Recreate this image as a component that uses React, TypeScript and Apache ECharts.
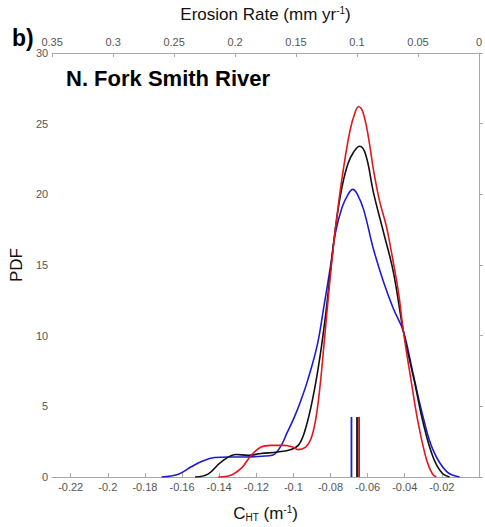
import React, { useEffect, useRef } from "react";
import * as echarts from "echarts";

const bottomTicks = [-0.22, -0.2, -0.18, -0.16, -0.14, -0.12, -0.1, -0.08, -0.06, -0.04, -0.02];

const blueCurve: [number, number][] = [
  [-0.171, 0], [-0.162, 0.2], [-0.155, 0.72], [-0.1495, 1.1], [-0.1424, 1.38], [-0.135, 1.42],
  [-0.126, 1.42], [-0.117, 1.47], [-0.111, 1.56], [-0.1067, 2.2], [-0.1035, 3.1], [-0.0996, 4.2],
  [-0.096, 5.4], [-0.0924, 6.8], [-0.0871, 9.35], [-0.0835, 12.1], [-0.08, 14.9], [-0.0773, 17.3],
  [-0.0737, 19.1], [-0.0705, 20.0], [-0.068, 20.35], [-0.0655, 20.0], [-0.0621, 18.9],
  [-0.0568, 16.1], [-0.0514, 13.8], [-0.0461, 11.9], [-0.0407, 10.3], [-0.0354, 7.25],
  [-0.03, 4.2], [-0.0247, 1.9], [-0.0175, 0.4], [-0.0104, 0],
];

const blackCurve: [number, number][] = [
  [-0.153, 0], [-0.146, 0.2], [-0.1388, 1.07], [-0.1307, 1.59], [-0.1245, 1.54], [-0.1174, 1.66],
  [-0.1085, 1.77], [-0.1013, 1.94], [-0.097, 2.3], [-0.0935, 3.4], [-0.0895, 5.6], [-0.0858, 8.4],
  [-0.0825, 11.6], [-0.0795, 15.2], [-0.0765, 18.4], [-0.0735, 20.7], [-0.0705, 22.2], [-0.0675, 23.0],
  [-0.0643, 23.4], [-0.061, 22.8], [-0.0568, 20.1], [-0.0514, 17.3], [-0.0461, 14.5], [-0.0407, 10.3],
  [-0.0345, 6.6], [-0.03, 3.8], [-0.0247, 1.4], [-0.02, 0.3], [-0.0158, 0],
];

const redCurve: [number, number][] = [
  [-0.1405, 0], [-0.135, 0.07], [-0.128, 0.63], [-0.1227, 1.54], [-0.1174, 2.12], [-0.112, 2.24],
  [-0.105, 2.24], [-0.1, 2.1], [-0.0977, 1.94], [-0.0935, 2.1], [-0.0905, 2.7], [-0.0878, 4.2],
  [-0.0855, 6.6], [-0.0832, 9.8], [-0.0809, 13.1], [-0.0782, 16.6], [-0.076, 19.0], [-0.0735, 21.4],
  [-0.0695, 24.5], [-0.0665, 25.9], [-0.0648, 26.2], [-0.0625, 25.8], [-0.0595, 24.0], [-0.0568, 21.7],
  [-0.0535, 19.5], [-0.05, 17.8], [-0.047, 15.8], [-0.0434, 13.1], [-0.0407, 10.3], [-0.0363, 6.6],
  [-0.0327, 3.8], [-0.0282, 1.2], [-0.025, 0.2], [-0.023, 0],
];

const meanBlue = -0.0687;
const meanBlack = -0.0657;
const meanRed = -0.0646;
const meanHeight = 4.25;

const FONT = "Liberation Sans, Arial, sans-serif";
const GRAY = "#a8a8a8";
const LABEL = "#555555";

export default function App() {
  const ref = useRef<HTMLDivElement>(null);
  useEffect(() => {
    document.body.style.margin = "0";
    const chart = echarts.init(ref.current!, null, { renderer: "svg" });
    const curve = (data: [number, number][], color: string) => ({
      type: "line",
      data,
      smooth: 0.4,
      showSymbol: false,
      lineStyle: { color, width: 1.6 },
      xAxisIndex: 0,
      yAxisIndex: 0,
      z: 3,
    });
    const vline = (x: number, color: string) => ({
      type: "line",
      data: [[x, 0], [x, meanHeight]],
      showSymbol: false,
      lineStyle: { color, width: 1.8 },
      xAxisIndex: 0,
      yAxisIndex: 0,
      z: 4,
    });
    chart.setOption({
      animation: false,
      textStyle: { fontFamily: FONT },
      title: [
        { text: "b)", left: 7, top: 21, textStyle: { fontSize: 23, fontWeight: "bold", color: "#000", fontFamily: FONT } },
        { text: "N. Fork Smith River", left: 61, top: 62, textStyle: { fontSize: 22, fontWeight: "bold", color: "#000", fontFamily: FONT } },
      ],
      grid: { left: 49, right: 5, top: 49, bottom: 50, containLabel: false },
      xAxis: [
        {
          type: "value",
          position: "bottom",
          min: -0.23,
          max: 0,
          name: "C{sub|HT} (m{sup|-1})",
          nameLocation: "middle",
          nameGap: 27,
          nameTextStyle: {
            fontSize: 17, color: "#111", fontFamily: FONT,
            rich: {
              sub: { fontSize: 10, verticalAlign: "bottom", padding: [8, 0, 0, 0], color: "#111" },
              sup: { fontSize: 10, verticalAlign: "top", padding: [0, 0, 8, 0], color: "#111" },
            },
          },
          axisLine: { show: true, lineStyle: { color: GRAY } },
          axisTick: { show: true, inside: true, length: 4, lineStyle: { color: GRAY }, customValues: bottomTicks },
          axisLabel: {
            color: LABEL, fontSize: 11, margin: 4, customValues: bottomTicks,
            formatter: (v: number) => String(+v.toFixed(2)),
          },
          splitLine: { show: false },
        },
        {
          type: "value",
          position: "top",
          inverse: true,
          min: 0,
          max: 0.35,
          interval: 0.05,
          name: "Erosion Rate (mm yr{sup|-1})",
          nameLocation: "middle",
          nameGap: 30,
          nameTextStyle: {
            fontSize: 17, color: "#111", fontFamily: FONT,
            rich: { sup: { fontSize: 10, verticalAlign: "top", padding: [0, 0, 8, 0], color: "#111" } },
          },
          axisLine: { show: true, lineStyle: { color: GRAY } },
          axisTick: { show: true, inside: true, length: 4, lineStyle: { color: GRAY } },
          axisLabel: {
            color: LABEL, fontSize: 11, margin: 6, showMinLabel: true, showMaxLabel: true,
            formatter: (v: number) => String(+v.toFixed(2)),
          },
          splitLine: { show: false },
        },
      ],
      yAxis: {
        type: "value",
        min: 0,
        max: 30,
        interval: 5,
        name: "PDF",
        nameLocation: "middle",
        nameGap: 22,
        nameTextStyle: { fontSize: 17, color: "#111", fontFamily: FONT },
        axisLine: { show: true, lineStyle: { color: GRAY } },
        axisTick: { show: true, inside: true, length: 4, lineStyle: { color: GRAY } },
        axisLabel: { color: LABEL, fontSize: 11, margin: 4 },
        splitLine: { show: false },
      },
      series: [
        curve(blueCurve, "#1c1cd6"),
        curve(blackCurve, "#111111"),
        curve(redCurve, "#e3161e"),
        vline(meanBlue, "#1c1cd6"),
        vline(meanBlack, "#111111"),
        vline(meanRed, "#b21a1a"),
      ],
    });
    return () => chart.dispose();
  }, []);
  return <div ref={ref} style={{ width: 485, height: 527 }} />;
}
